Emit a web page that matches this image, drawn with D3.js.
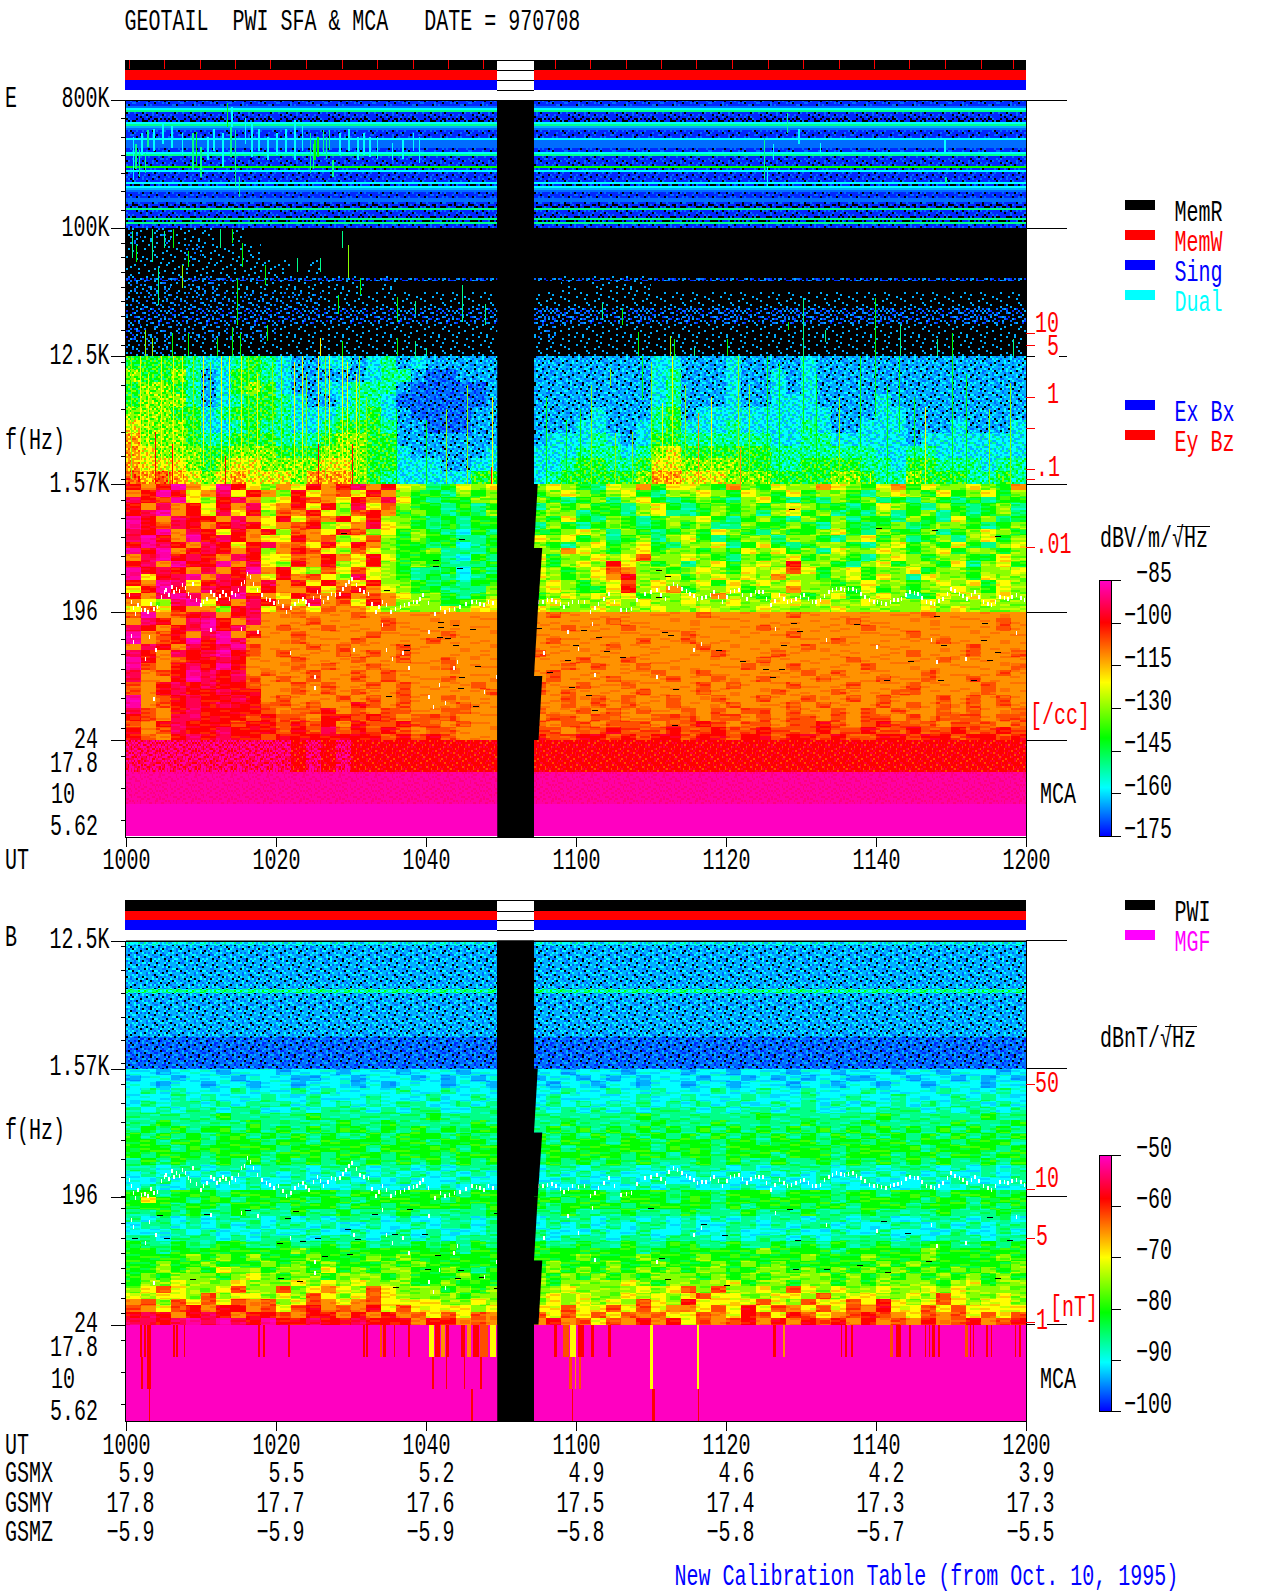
<!DOCTYPE html>
<html>
<head>
<meta charset="utf-8">
<script src="https://cdn.jsdelivr.net/npm/d3@7"></script>
<style>
body { margin: 0; background: white; }
text { font-family: "Liberation Mono", monospace; font-size: 20px; white-space: pre; }
</style>
</head>
<body>
<div id="chart-area"></div>
<script>
var timeTicks = [0, 20, 40, 60, 80, 100, 120];
var gsmx = [5.9, 5.5, 5.2, 4.9, 4.6, 4.2, 3.9];
var gsmy = [17.8, 17.7, 17.6, 17.5, 17.4, 17.3, 17.3];
var gsmz = [-5.9, -5.9, -5.9, -5.8, -5.8, -5.7, -5.5];

// data gap in minutes after 1000, and the slanted sweep edge on its right side
var gapFrom = 49.5, gapTo = 54.4;
var gapEdges = [[1570, 883, 54.9, 54.4], [883, 196, 55.5, 54.9], [196, 110, 54.9, 54.4], [110, 24, 55.5, 55]];
var memTicks = [0.4, 5.1, 9.9, 14.6, 19.3, 24.1, 28.8, 33.5, 38.3, 43, 47.7, 57.2, 61.9, 66.7, 71.4, 76.1, 80.9, 85.6, 90.3, 95.1, 99.8, 104.5, 109.3, 114, 118.3];

// levels: char in a grid string -> dB (0 means no signal, drawn black)
var eLevels = [null, -172.3, -167.8, -163.3, -158, -150, -140.5, -130, -121, -112, -106.6, -100, -94, -87.7, -90.4, -85.5];
var bLevels = [null, -98.5, -96, -93.5, -90.5, -86, -80.75, -75, -70, -65, -62, -58.5, -55, -51.5, -53.1, -50.3];

// fixed tile used to break flat cells into pixels and stripes
var speckTile = [
  "472091836518049273615820", "918365027491736580214769", "250748193602957418360915", "693120574829013675984237",
  "081957346216748902537164", "746208915370462189053827", "319574682041895376120495", "524610379858201743969136",
  "867392041627534091785240", "103785926094187652340879", "495026718363920847156302", "782461390517063294871563",
  "036819254780416539207481", "951347608295872160345796", "264590183716395048621037", "870236951408127593476812",
  "415789302654830917625049", "693104827591246780359168", "208567419032679514083725", "547391062876105328947604",
  "132680795243958461720359", "986725340119374206581243", "059432176862508731496817", "721048693507216895230946"
];

// E 100K-800K, one char per frequency row, nearly constant in time
var e800Profile = "1112451110045321111422221145111116141111140432111221005111050511";

var e800Patches = [[1.7,526,381,"5"],[2.5,508,399,"5"],[0.9,600,362,"4"],[2.8,636,545,"5"],[8.8,618,417,"5"],[9.3,627,435,"6"],[9.9,545,381,"5"],
  [13.4,782,654,"6"],[13.9,654,490,"5"],[14.5,636,326,"5"],[15,381,271,"5"],[12.8,618,435,"4"],[16.7,672,490,"4"],[22.4,690,472,"4"],
  [24.5,618,399,"5"],[25.1,581,472,"6"],[25.5,600,490,"6"],[26.2,636,508,"5"],[27,636,526,"5"],[27.5,472,381,"5"],[30.8,600,472,"4"],
  [32.4,600,490,"4"],[35.4,563,472,"4"],[39,600,454,"4"],[85,590,362,"5"],[85.4,435,326,"4"],[88.1,727,618,"5"],[109.1,590,508,"4"],
  [109.2,381,344,"5"],[92.5,563,508,"4"],[1.2,560,420,"5"],[2,620,500,"4"],[3.6,640,520,"4"],[4.8,680,560,"4"],[6,660,540,"4"],[7.4,620,500,"4"],
  [10.8,600,470,"4"],[11.6,640,520,"4"],[14,760,650,"4"],[15.8,700,560,"4"],[17.6,640,520,"4"],[18.8,600,470,"4"],[20,620,500,"4"],[21.2,640,510,"4"],
  [23.4,660,520,"4"],[24.9,560,420,"5"],[26.6,600,480,"5"],[28.4,620,500,"4"],[29.6,640,520,"4"],[31.6,620,500,"4"],[33.4,600,480,"4"],[36.8,590,480,"4"],
  [38.2,620,520,"4"],[86.2,560,470,"4"],[89.6,640,560,"4"]];

// E 12.5K-100K: how dense the blue speckle is (tenths), mostly empty
var e100Haze = [
  "21211 10100 00000 00000 00000 00000 00000 00000 00000 00000 00000 000",
  "11112 11110 00000 00000 00000 00000 00000 00000 00000 00000 00000 000",
  "11111 11111 10100 00000 00000 00000 00000 00000 00000 00000 00000 000",
  "22212 21111 11111 10100 00000 00101 11100 00000 00000 00000 00000 000",
  "22222 22222 22211 11111 11111 11111 11111 11111 11111 11111 11111 111",
  "33333 33333 33333 33333 33333 44443 33433 43443 34444 34444 33344 443",
  "32222 22222 11111 11111 11111 22111 11111 11111 11111 11111 11111 111",
  "22211 11111 11111 11111 11111 11111 11111 11111 11111 11111 11111 111"
];
var e100Line = "55565 56565 56565 55655 56565 54455 45556 56555 65656 56565 56556 565";

// E 1.57K-12.5K
var e12k = [
  "66665 44565 43344 34534 33333 33333 33344 33343 33343 33333 33333 333",
  "76675 34665 43333 34553 22333 33333 33345 33343 34343 33333 33333 333",
  "67765 34676 43344 55532 22223 33333 33345 33343 34343 33333 33333 333",
  "67775 34566 54334 55422 22223 33333 33345 33343 34443 33343 33333 333",
  "77766 45666 54445 56432 22233 33334 33356 34444 44444 33344 33333 333",
  "87776 44565 54456 66533 22233 33344 33456 44454 44454 33444 33343 334",
  "97776 55666 55567 76633 33333 34445 43466 55555 54455 44444 34444 444",
  "98777 66777 66677 76643 33334 44455 54578 66666 65555 55544 55444 444",
  "98887 67887 77788 76644 43344 44566 55688 77776 65566 66554 66555 455",
  "a9a98 78988 87999 76544 44466 45666 66799 88877 76666 77655 76665 565"
];

// E 196-1.57K
var e1k = [
  "b9bd9 8db87 98b9b c9b87 56878 78765 87968 87697 68779 87689 68778 769",
  "9bdb8 9c8b9 7b89a 8b976 65767 67876 78657 78768 76867 76578 76867 867",
  "cbad8 7bc97 8ba98 b9c86 56677 76567 57865 67657 86565 76756 57656 566",
  "b9c9b 8b9c8 9b8b7 c8a76 65656 57676 65786 56767 67876 65687 65765 675",
  "bcd9b 8c8b7 a9b87 ab967 65657 67756 65785 56767 57867 56575 67565 675",
  "db9cb b9c98 b8a9b 8b776 56566 76865 76567 78656 76576 75665 76586 756",
  "dbacb 9bcb8 9ab78 9c876 56566 57656 76567 67557 66765 76567 56776 567",
  "cbd9c b8b9b 7a98b a7867 65465 66787 57656 76876 57667 86576 67567 876",
  "cdb9d bcb98 8b9a7 8a767 66556 87867 56757 86567 75776 57867 56757 867",
  "bdcb9 cb8bc 9a8b8 b9766 56456 76578 67865 77856 86567 76578 67686 578",
  "dbd9b cb9b7 9ba87 a8766 75556 77987 67867 76768 78675 87787 67867 767",
  "9cdbc b9cb8 8a9b9 8b866 65465 86778 78a77 87657 67867 76578 76776 687",
  "bc9db bd9c8 7b9b7 8b767 65556 76787 b8767 57867 87b77 65786 77685 786",
  "dbcb9 c9bd9 b87a8 a8765 56465 87678 a9776 78768 78a86 78677 86776 778",
  "d8bcd 9cb98 b9a87 c8765 65456 87678 9b778 67878 79776 78687 58776 877",
  "b9dc8 bcb9c 9b8b9 8b776 56566 78767 8a787 78687 87877 67877 67878 687",
  "8bdb9 cbc8b 99b8a b9876 65557 78766 8b789 67786 77977 76867 67787 687",
  "b9cdc 9bdb9 8ba9b 9a987 76567 67878 78677 87977 68767 86787 56878 787",
  "987cd 8b9cb 98c9a 8b977 76678 78777 87877 87787 78878 77877 78777 877",
  "8a8b9 97bc8 a98a9 98777 78788 87778 77787 78777 87777 87777 78787 777"
];

// E 24-196
var e196 = [
  "ad9ab c9bc9 9a999 a9999 99999 9a999 99999 9a999 99a99 99999 9a999 999",
  "9cb9c db9c9 99a99 99a99 99999 99999 a9999 99999 99999 9a999 99999 9a9",
  "cb9bc dbc99 a99a9 99a99 99999 99a99 9a999 99999 a9999 99a99 99999 9a9",
  "d9ab9 cd9b9 9a999 9a999 9a999 99999 99999 a9999 99a99 99999 a9999 999",
  "d9abd bdc99 9a999 a9999 a9999 9a999 99a99 a9999 99999 a9999 99a99 999",
  "9cb9c bcda9 99a9a 999a9 99999 99999 a9999 9a999 999a9 99999 9999a 999",
  "cb9cb cdba9 a999a 9a9a9 99999 a9999 99999 99a99 9a999 99999 a999a 99a",
  "db9ab bcb99 9a999 a99a9 9a999 999a9 9a999 99999 a9999 9a999 99a99 999",
  "da9bc bdb99 9a9a9 9a999 9a999 99a9a 99a99 9999a 99a99 99a99 99999 99a",
  "c9abd cbc9a 99a99 a9a99 99999 9a999 999a9 9a999 999a9 a9999 9a999 9a9",
  "c99bd cbca9 a9a99 a9a99 9a999 9a999 a999a 99a99 a999a 999a9 9a99a 999",
  "a9bcb cbba9 9a9a9 9a9a9 999a9 a99a9 9a999 9a9a9 99a99 9a999 a9999 a99",
  "a9bcb bcbb9 9a9a9 a99a9 9999a a9a99 99a99 9a999 9a999 a999a a9999 a99",
  "d9abc bbcb9 a999a 9a9a9 9a999 99a9a 9a99a 99a99 a99a9 9a9a9 99a9a 9a9",
  "d9abc bcbba a9a99 ba9a9 99a99 99a9a 9a99a 999a9 99a9a 999a9 a9a9a 9a9",
  "ca9bc bbbba 9aab9 a9aa9 9aa99 a99a9 a9a99 a9a9a a9a99 a9a9a 99a9a 99a",
  "ba9cc bbbab aa9bb aba9a aa999 9aa9a a99aa a9aa9 a9aa9 a9aa9 a9aaa 9aa",
  "a9bcb bbabb abab9 baaba a9a99 a9aa9 aaa9a aba9a a9aab a9aba aa9aa a9a",
  "b9acb bcbbb abaca baba9 aa999 aa9aa baaab aabaa baaab aabaa baaba aba",
  "ba9bc bcbba bbbbb bbaba ba999 baabb ababb abbab babba baabb abbab bab"
];

var eMca = [
  "ccccc ccccc cbcbc bbbbb bbbbb bbbbb bbbbb bbbbb bbbbb bbbbb bbbbb bbb",
  "ddddd ddddd ddddd ddddd ddddd ddddd ddddd ddddd ddddd ddddd ddddd ddd",
  "fffff fffff fffff fffff fffff fffff fffff fffff fffff fffff fffff fff"
];

// whistler streaks: minute, top kHz, bottom kHz, level char
var eStreaks = [[0.8,97.7,79.5,"5"],[1.3,88.6,77,"6"],[3.4,99,77,"5"],[4.3,72.7,47.6,"5"],[5.1,97.7,86,"5"],[6.3,99,86,"6"],[7.5,75,59,"7"],[8.3,84,73,"6"],
  [12.5,99,86,"5"],[14.1,99,90,"6"],[15.4,90,73,"6"],[14.8,65.8,34,"6"],[18.5,75,61,"6"],[22.8,79.5,70,"5"],[25.9,79.5,70,"5"],[28.8,97.7,86,"5"],
  [29.6,88.6,65.8,"7"],[31.2,65.8,54,"6"],[28.3,54,41,"6"],[36.1,53,36,"6"],[38.5,50,41,"5"],[44.8,61,36,"5"],[47.9,48,34,"5"],
  [2.5,30,12.5,"7"],[3.4,25,12.5,"7"],[6.1,28,12.5,"6"],[8.3,28,12.5,"6"],[12.1,25,12.5,"6"],[14.1,32,12.5,"6"],[15.2,28,12.5,"6"],[18.8,34,23,"6"],
  [25.9,25,12.5,"8"],[28.8,23,12.5,"6"],[36.1,25,12.5,"6"],[38.5,23,12.5,"5"],[40,18,12.5,"5"],
  [6.3,12.5,1.6,"8"],[7.5,12.5,1.6,"8"],[12.7,12.5,2,"8"],[15.3,12.5,2,"8"],[23.4,12.5,2,"8"],[25.6,12.5,1.6,"8"],[27,12.5,3,"8"],[28.8,12.5,1.6,"8"],[31,12.5,2,"7"],
  [45.4,10,1.6,"7"],[48.8,9,1.6,"8"],[3.9,6,1.6,"b"],[6.1,5,1.6,"b"],[13.2,4,1.6,"b"],[25.6,5,1.6,"b"],[30.1,5,1.6,"b"],[48.7,3,1.6,"b"],
  [0.6,12.5,2,"7"],[1.8,12.5,2,"8"],[2.9,11,1.6,"8"],[4.7,12.5,3,"8"],[5.6,10,1.6,"7"],[8.9,12.5,2,"7"],[10.3,12.5,3,"8"],[11.2,12,2,"7"],[13.7,12.5,2,"8"],[16.3,12.5,3,"7"],
  [17.4,11,2,"8"],[19.5,12,2,"7"],[20.7,12.5,3,"7"],[22.4,12,2,"8"],[24,11,1.6,"7"],[26.5,12.5,2,"7"],[29.5,12,1.6,"8"],[30.7,11,2,"8"],[32,9,1.6,"7"],[36,8,1.6,"6"],[40,7,1.6,"6"],[42.7,8,1.6,"7"],
  [63.4,48.7,37,"5"],[66.1,45,34,"6"],[68.3,29,12.5,"6"],[72.5,26,12.5,"7"],[73,24,12.5,"6"],[75.7,18,12.5,"5"],[80.1,24,12.5,"6"],[88.3,36,30,"6"],
  [90.3,52,12.5,"5"],[93.2,30,22,"5"],[99.9,52,12.5,"6"],[103.2,34,12.5,"5"],[108.1,24,12.5,"5"],[110.1,28,12.5,"6"],[118.3,24,12.5,"5"],
  [72.8,12.5,1.6,"8"],[71.4,8.46,1.6,"8"],[76.3,7.6,1.6,"9"],[81.6,12.5,1.6,"7"],[81.9,4.76,1.6,"9"],[65.2,5.9,1.6,"7"],[68.8,12.5,8.74,"6"],[85.4,12.5,1.6,"6"],
  [90.3,12.5,5.9,"6"],[97.9,12.5,4.76,"6"],[99.9,12.5,7.3,"6"],[103,12.5,5.9,"6"],[106.5,8.17,1.6,"8"],[110.1,12.5,1.6,"6"],[117.9,10.2,1.6,"7"],[64.5,11.5,9.9,"7"],[99.2,2.5,1.6,"8"],
  [56,9,1.6,"6"],[58.7,7,1.6,"6"],[60.5,8,1.6,"6"],[62,10,1.6,"7"],[67.5,6,1.6,"7"],[70,12,1.6,"7"],[74.5,10,1.6,"7"],[78,9,1.6,"8"],[83,10,1.6,"7"],[87,12,1.6,"6"],[92,11,1.6,"6"],[95,9,1.6,"7"],
  [101.5,10,1.6,"6"],[105,9,1.6,"6"],[112,11,1.6,"6"],[115,8,1.6,"7"]];

// white marks from the magnetometer: minute, Hz
var fceDots = [[0.34,396],[0.6,325],[1.15,200],[1.97,235],[2.8,218],[3.6,253],[4.1,271],[5,432],[5.2,450],[6,486],[6.6,468],[7.4,504],[8.2,414],[8.8,521],[9.9,289],[10.7,361],
  [11.2,432],[12,361],[12.8,432],[13.7,361],[14.5,396],[15.3,521],[16.1,629],[16.9,521],[18,396],[19.1,343],[20.2,325],[21.3,218],[22.4,307],[23.5,361],[24.3,289],[25.4,432],
  [26.2,325],[27.3,414],[28.4,414],[29.2,504],[30,575],[31.1,450],[32.2,414],[33.2,218],[34.1,325],[35.2,218],[36.5,271],[37.6,307],[38.7,325],[39.5,396],[41.1,200],[43,235],
  [44.4,271],[46,325],[47.1,307],[48.2,325],[54.9,325],[56.1,343],[57.2,325],[58.3,271],[59.4,325],[61,325],[61.8,218],[62.9,307],[64.3,414],[65.9,235],[67.3,253],[69.1,414],
  [70.7,450],[71.8,361],[72.9,521],[74,468],[75.1,414],[76.1,361],[77.2,378],[78.3,432],[79.4,325],[80.5,432],[81.6,450],[82.7,361],[83.8,432],[84.8,432],[85.9,289],[87,396],
  [88.1,325],[89.2,361],[90.3,396],[91.4,325],[92.5,343],[93.6,432],[94.6,468],[95.7,450],[96.8,468],[97.9,414],[99,343],[100.1,325],[101.2,307],[102.3,343],[103.3,361],
  [104.4,432],[105.5,414],[106.6,325],[107.7,307],[108.8,361],[109.9,468],[111,414],[112,361],[113.1,432],[114.2,325],[115.3,289],[116.4,378],[117.5,361],[118.6,396],[119.7,343],
  [0.9,260],[1.5,290],[2.4,240],[3.2,300],[4.6,380],[5.6,400],[6.3,430],[7,440],[7.8,470],[8.5,380],[9.3,350],[10.2,330],[11.6,400],[12.4,390],[13.2,400],[14,420],[14.9,450],[15.7,540],
  [16.5,590],[17.4,450],[18.6,360],[19.6,310],[20.8,280],[21.9,260],[22.9,340],[23.9,320],[24.9,370],[25.8,380],[26.8,370],[27.8,400],[28.8,460],[29.6,540],[30.6,510],[31.6,430],[32.7,300],
  [33.6,270],[34.6,290],[35.8,250],[37,290],[38.2,320],[39.1,360],[40.2,310],[41.8,260],[42.4,220],[43.7,250],[45.2,300],[46.6,320],[47.6,290],[48.8,310],[55.5,330],[56.7,350],[57.8,300],
  [58.9,300],[60.2,320],[62.4,260],[63.6,360],[65,330],[66.6,240],[68,350],[69.9,430],[71.2,400],[72.3,480],[73.4,500],[74.6,440],[75.6,390],[76.7,370],[77.8,400],[78.9,380],[80,380],[81,440],
  [82.1,400],[83.2,400],[84.3,430],[85.3,360],[86.4,340],[87.6,360],[88.6,340],[89.8,380],[90.9,360],[91.9,330],[93,390],[94.1,450],[95.2,460],[96.2,460],[97.3,440],[98.4,380],[99.6,330],
  [100.6,315],[101.8,325],[102.8,350],[103.9,400],[105,420],[106,370],[107.2,315],[108.3,335],[109.4,415],[110.4,440],[111.5,390],[112.6,395],[113.6,380],[114.8,305],[115.8,330],[117,370],[118,380],[119.2,370],
  [0.6,167],[0.9,158],[2.5,136],[3,165],[3.9,147],[3.6,82],[11.2,174],[15.3,176],[17.5,172],[21.8,143],[25.1,111],[25.1,96],[30.3,147],[34.1,181],[34.6,147],[35.4,136],[36.8,143],
  [37.6,123],[40.3,172],[41.7,100],[40.3,84],[43.6,123],[44.1,132],[40.9,71],[42.5,76],[47.7,91],[49.3,111],[55.6,143],[58.8,172],[60.2,149],[62.1,183],[62.4,114],[75.6,147],
  [76.6,156],[70.7,111],[86.5,176],[93.3,161],[100,152],[107.3,161],[108,132],[111.9,136],[118.6,171]];

// short black dropouts: minute, Hz
var eDropouts = [[41.6,176],[43.6,178],[45.9,173],[41.4,162],[42.5,161],[37,151],[43.6,151],[37,145],[46.5,123],[44.4,108],[44.2,94],[46.2,70],[34.6,83],
  [54.7,174],[60.7,172],[62.6,162],[59.6,152],[63.7,143],[58.5,132],[65.9,136],[56.1,115],[59.1,95],[61.3,85],[62.1,64],[88.6,181],[89.5,171],[72.3,165],[71.5,169],
  [87.3,152],[78.6,145],[81.9,130],[84.9,119],[87,119],[85.9,109],[101,105],[108.2,104],[112.6,105],[72.9,92],[72.8,44],[104.2,130],[114.8,132],[115.9,142],[108.7,152],[114,158],[114.1,181],[107.7,191],[97,180],
  [88.4,1301],[100,1094],[107.4,1076],[115.9,1012],[70.7,647],[71.8,582],[70.7,360],[28.6,1040],[44.4,980],[40.9,754],[40.9,693],[44.1,665],[34.4,432],[41.6,182]];
var bDropouts = [[4.1,171],[10.4,172],[15.9,178],[22.3,177],[21.2,167],[37.4,179],[32.8,173],[49,174],[5,140],[0.8,140],[25.2,140],[30.5,139],[20.1,133],[23.2,136],[29.2,153],[41.2,118],
  [26.1,116],[29.4,119],[35.4,146],[39.4,146],[47,88],[44.3,97],[39.9,99],[20.3,87],[8.5,85],[49,73],[35.6,74],[22.8,82],[43.9,87],[79.4,144],[89.2,138],[100.6,163],[76.7,159],
  [69.6,180],[88.1,179],[114.8,168],[103.9,147],[93,98],[71,114],[106.6,110],[88.9,98],[101.2,95],[117.5,138],[71.8,85],[115.9,86],[79.7,77],[97.4,104]];

// B 1.57K-12.5K, one char per frequency row
var b12kProfile = "43333333333353333333333322222222";

// B 196-1.57K
var b1k = [
  "44344 43444 34443 44434 44344 44344 43444 34434 44344 34443 44344 434",
  "34434 44344 43344 34443 43434 34434 34344 43443 43434 43344 34434 343",
  "44344 34434 43444 34344 43443 43443 44344 34434 44344 34434 43444 344",
  "45454 44544 45454 44454 45444 44544 54454 44544 54454 44544 44544 454",
  "44454 54445 44544 45444 54454 45444 44544 54445 44454 45445 44454 544",
  "45455 45455 54545 45455 44545 45454 54545 45454 45454 54545 45455 454",
  "54545 54554 45455 54545 54455 54545 45455 54545 54554 45455 54545 545",
  "55555 56555 55655 55555 65555 55555 55655 55555 65555 55565 55555 655",
  "55655 55565 55556 55655 55565 55655 55565 55655 55565 55655 55565 556",
  "56565 66565 65656 65656 56566 56565 65656 56565 65656 56565 65656 565",
  "65656 56656 56565 56566 65655 65656 56565 65656 56565 65656 56565 656",
  "66566 56665 66566 66566 56665 65666 56656 66566 56665 66566 56656 665",
  "66656 66666 56666 65666 66566 66566 66656 66566 66666 56666 65666 656",
  "65666 56665 66656 66566 65666 56666 65665 66566 65666 56665 66566 566",
  "56565 56565 65656 56565 65656 56565 65655 56565 56556 56565 65655 656",
  "55455 45545 55455 54554 54555 45545 55454 55545 45555 45545 55454 545",
  "45454 54545 45454 54545 45454 45454 54445 45454 54545 45454 54544 545",
  "44545 45454 45445 45454 44544 44544 45454 44544 45445 44544 45454 445",
  "45445 54454 54544 54445 45454 54454 44545 54445 44544 54454 45445 544",
  "66566 65666 56665 66566 66566 65666 56665 66566 65666 56656 66566 656"
];

// B 24-196
var b196 = [
  "68665 66566 66566 56666 65666 66566 56665 66566 66666 56666 65665 666",
  "66656 65666 56665 66566 66656 65666 65666 66565 66656 65666 56665 656",
  "55656 55655 56556 55565 55556 55655 56555 65556 55565 55655 55655 565",
  "54545 45554 54545 55454 45545 45554 55454 54545 45545 54554 45554 554",
  "45545 45454 55454 45445 45545 45454 54554 54455 45455 45445 54545 455",
  "44454 54445 44544 54454 54445 54445 44544 54454 44544 54454 44454 454",
  "55455 54545 55455 54554 54555 54555 45545 55454 55454 55554 54555 455",
  "65565 56655 65565 65556 56565 65565 56556 65565 56565 65565 56655 656",
  "66566 66666 67666 66666 66566 66666 66566 66666 76666 56666 67666 666",
  "66667 67676 66766 67676 66666 66676 66766 67666 66676 66766 67666 676",
  "66766 76667 67676 66767 66666 67666 76676 66767 67666 66676 76666 667",
  "66767 68776 77686 76776 67656 67676 76767 67766 77676 76767 67676 767",
  "67677 76787 67767 77676 66766 76767 67677 76767 67777 67676 76767 676",
  "67787 77877 78787 87776 67666 76777 78767 77786 77677 67677 77678 677",
  "78a87 78a77 a7898 7a877 76767 77877 77878 a7a77 87a87 87787 78787 777",
  "87887 a7887 87a87 8a877 77677 78787 78787 8a887 7887a 78877 87a87 787",
  "9a7a8 a8a9a 78a98 9a888 87787 78787 87a87 b8888 a87a8 8a8b8 78a87 887",
  "a98ab 9bb9a 8ab9a 9b8a8 88878 88a88 a8a89 98a8b 8a98a 8a9b8 8a8a8 888",
  "bcb9b cb9bb a9bb9 b9b9a 8a8a9 a8a8a 8a9a8 8a98b a8ba8 9aba9 8a9a8 a8a",
  "ccbcd cdcbd bbcbb cbbb9 bb9a9 9b9a8 a9b9b 8a9ab 9b9ba b9b9a 9b9ab 9ab"
];

// B MCA is flat except for narrow stripes: from minute, to minute, level char
var bMcaRow1 = [[1.9,2.1,"b"],[2.4,2.6,"b"],[2.8,3.3,"b"],[6.3,6.5,"b"],[6.7,6.9,"b"],[7.7,7.9,"b"],[17.6,17.8,"b"],[18.3,18.5,"b"],[21.6,21.8,"b"],[31.6,31.9,"b"],[32,32.2,"b"],[33.8,34.1,"a"],[34.3,34.6,"b"],[35.7,35.9,"b"],[37.6,37.8,"b"],
  [40.4,41,"8"],[41.2,41.8,"b"],[42,42.5,"9"],[42.6,43.1,"b"],[44.7,45.2,"b"],[45.4,46,"9"],[46.3,47,"b"],[47.2,48.3,"a"],[48.5,49.3,"8"],[57,57.5,"b"],[58.3,59,"a"],[59.2,60,"8"],[60.2,61,"b"],
  [62,62.4,"b"],[64.3,64.6,"b"],[69.9,70.3,"8"],[76.1,76.4,"8"],[86.2,86.6,"b"],[87.6,87.8,"9"],[95.3,95.5,"b"],[95.9,96.1,"b"],[96.6,96.9,"b"],[101.9,102.2,"a"],[102.6,103,"b"],[103.1,103.3,"b"],[104.4,104.7,"b"],
  [106.5,106.7,"b"],[107,107.2,"b"],[107.5,107.9,"b"],[108.2,108.5,"b"],[111.9,112.2,"a"],[112.5,112.7,"b"],[112.9,113.1,"b"],[114.7,114.9,"b"],[115.3,115.5,"b"],[118.5,118.7,"b"],[119,119.3,"b"]];
var bMcaRow2 = [[2,2.3,"b"],[2.8,3.3,"b"],[40.8,41,"b"],[42.6,42.8,"b"],[45,45.2,"b"],[47.2,47.4,"b"],[59,59.4,"a"],[59.8,60,"9"],[60.4,60.7,"a"],[69.9,70.3,"8"],[76.1,76.4,"8"]];
var bMcaRow3 = [[3,3.2,"b"],[46,46.2,"b"],[59.4,59.6,"b"],[70.1,70.5,"b"],[76.2,76.4,"b"]];

var eDensities = [10, 5, 1, 0.5, 0.1, 0.05, 0.01];
var bFields = [50, 10, 5, 1];

var eBarTicks = [-85, -100, -115, -130, -145, -160, -175];
var bBarTicks = [-50, -60, -70, -80, -90, -100];

var width = 1280, height = 1593;
var svg = d3.select("#chart-area").append("svg")
    .attr("width", width)
    .attr("height", height)
    .style("display", "block");
var defs = svg.append("defs");

var xScale = d3.scaleLinear().domain([0, 120]).range([126, 1026]);

// every band is linear in frequency and 128px tall, so one piecewise scale per panel
var eBands = [800000, 100000, 12500, 1570, 196, 24];
var yE = d3.scaleLinear().domain(eBands).range([100, 228, 356, 484, 612, 740]);
var bBands = [12500, 1570, 196, 24];
var yB = d3.scaleLinear().domain(bBands).range([940.5, 1068.5, 1196.5, 1324.5]);

var mcaNames = ["17.8", "10", "5.62"];
var mcaE = d3.scaleBand().domain(mcaNames).range([740, 836]);
var mcaB = d3.scaleBand().domain(mcaNames).range([1324.5, 1420.5]);

var stops = ["#0000ff", "#00ffff", "#00ff00", "#ffff00", "#ff0000", "#ff00c8"];
var colorE = d3.scaleLinear().domain([-175, -158, -140.5, -121, -100, -85]).range(stops);
var colorB = d3.scaleLinear().domain([-100, -90.5, -80.75, -70, -58.5, -50]).range(stops);

function levelColor(c, levels, color) {
    var db = levels[parseInt(c, 16)];
    return db == null ? "black" : color(db);
}

// pattern painted from speckTile on a flat background, pick(digit) gives a colour or null
function tilePattern(id, bg, pick, cw, ch) {
    var p = defs.append("pattern")
        .attr("id", id)
        .attr("patternUnits", "userSpaceOnUse")
        .attr("width", 24 * cw).attr("height", 24 * ch);
    if (bg) {
        p.append("rect").attr("width", 24 * cw).attr("height", 24 * ch).attr("fill", bg);
    }
    speckTile.forEach(function(row, i) {
        row.split("").forEach(function(ch2, j) {
            var c = pick(+ch2);
            if (c) {
                p.append("rect")
                    .attr("x", j * cw).attr("y", i * ch)
                    .attr("width", cw).attr("height", ch)
                    .attr("fill", c)
                    .attr("shape-rendering", "crispEdges");
            }
        });
    });
}

function mottlePatterns(prefix, levels, color) {
    d3.range(1, 13).forEach(function(L) {
        var up = color(levels[L + 1]);
        var down = L > 1 ? color(levels[L - 1]) : "black";
        tilePattern(prefix + L.toString(16), color(levels[L]), function(d) {
            if (d == 0) return L <= 3 ? "black" : down;
            if (d <= 2 && L > 1) return down;
            if (d >= 8) return up;
            return null;
        }, 2, 2);
    });
}
mottlePatterns("e", eLevels, colorE);
mottlePatterns("b", bLevels, colorB);

// wide flat dashes for the low bands, half a level either way
function stripePatterns(prefix, levels, color) {
    d3.range(1, 14).forEach(function(L) {
        var upDb = L == 13 ? levels[15] : (levels[L] + levels[L + 1]) / 2;
        var downDb = (levels[L] + levels[L - 1 > 0 ? L - 1 : L]) / 2;
        // the orange band only ever strays towards red
        if (L == 9) downDb = levels[L];
        tilePattern(prefix + L.toString(16), color(levels[L]), function(d) {
            if (d <= 1) return color(downDb);
            if (d >= 8) return color(upDb);
            return null;
        }, 10, 2);
    });
}
stripePatterns("se", eLevels, colorE);
stripePatterns("sb", bLevels, colorB);

// vertical hairlines for the MCA rows
tilePattern("mcaRed", colorE(eLevels[11]), function(d) {
    if (d == 0) return colorE(eLevels[10]);
    return d >= 8 ? colorE(-96) : null;
}, 1.5, 2);
tilePattern("mcaPink", colorE(eLevels[12]), function(d) {
    if (d <= 1) return colorE(eLevels[11]);
    return d >= 6 ? colorE(eLevels[13]) : null;
}, 1.5, 2);
tilePattern("mcaMid", colorE(eLevels[13]), function(d) {
    return d <= 2 ? colorE(eLevels[14]) : null;
}, 1.5, 2);

// rows with heavy dropouts in the top E band
tilePattern("eDense", colorE(eLevels[1]), function(d) {
    if (d <= 3) return "black";
    return d == 9 ? colorE(eLevels[2]) : null;
}, 2, 2);

// speckle on black, n tenths of the pixels are lit
d3.range(1, 10).forEach(function(n) {
    tilePattern("haze" + n, null, function(d) {
        if (d >= n) return null;
        if (d == 0) return colorE(eLevels[3]);
        return colorE(d % 2 ? eLevels[2] : eLevels[1]);
    }, 2, 2);
});

function label(str, x, y, color, anchor) {
    return svg.append("text")
        .attr("transform", "translate(" + x + "," + y + ") scale(1,1.45)")
        .attr("text-anchor", anchor || "start")
        .attr("fill", color || "black")
        .text(str);
}

function rule(x1, x2, y, color) {
    svg.append("line")
        .attr("x1", x1).attr("x2", x2)
        .attr("y1", y).attr("y2", y)
        .attr("stroke", color || "black")
        .attr("shape-rendering", "crispEdges");
}

function colMinute(j) {
    return j < 25 ? j * 2 : 54 + (j - 25) * 2;
}

function gridCells(rows, top, bottom, y) {
    var step = (top - bottom) / rows.length;
    var cells = [];
    rows.forEach(function(r, i) {
        r.replace(/ /g, "").split("").forEach(function(c, j) {
            cells.push({
                c: c,
                t: colMinute(j),
                y0: y(top - i * step),
                y1: y(top - (i + 1) * step)
            });
        });
    });
    return cells;
}

function drawGrid(g, rows, top, bottom, y, fill) {
    g.append("g").selectAll("rect").data(gridCells(rows, top, bottom, y)).join("rect")
        .attr("x", function(d) { return xScale(d.t); })
        .attr("width", function(d) { return xScale(d.t + 2) - xScale(d.t); })
        .attr("y", function(d) { return d.y0; })
        .attr("height", function(d) { return d.y1 - d.y0; })
        .attr("fill", function(d) { return fill(d.c); })
        .attr("shape-rendering", "crispEdges");
}

// a profile is a grid with one wide column on each side of the gap
function drawProfile(g, profile, top, bottom, y, fill) {
    var step = (top - bottom) / profile.length;
    [[0, gapFrom], [gapTo, 120]].forEach(function(seg) {
        g.append("g").selectAll("rect").data(profile.split("")).join("rect")
            .attr("x", xScale(seg[0]))
            .attr("width", xScale(seg[1]) - xScale(seg[0]))
            .attr("y", function(d, i) { return y(top - i * step); })
            .attr("height", function(d, i) { return y(top - (i + 1) * step) - y(top - i * step); })
            .attr("fill", fill)
            .attr("shape-rendering", "crispEdges");
    });
}

function drawStreaks(g, data, unit, w, y) {
    g.append("g").selectAll("rect").data(data).join("rect")
        .attr("x", function(d) { return xScale(d[0]); })
        .attr("width", w)
        .attr("y", function(d) { return y(d[1] * unit); })
        .attr("height", function(d) { return y(d[2] * unit) - y(d[1] * unit); })
        .attr("fill", function(d) { return levelColor(d[3], eLevels, colorE); })
        .attr("shape-rendering", "crispEdges");
}

function drawMarks(g, data, y, fill, w, h) {
    g.append("g").selectAll("rect").data(data).join("rect")
        .attr("x", function(d) { return xScale(d[0]); })
        .attr("y", function(d) { return y(d[1]); })
        .attr("width", w)
        .attr("height", h)
        .attr("fill", fill)
        .attr("shape-rendering", "crispEdges");
}

function drawGap(g, y, y0, y1) {
    g.append("rect")
        .attr("x", xScale(gapFrom)).attr("width", xScale(gapTo) - xScale(gapFrom))
        .attr("y", y0).attr("height", y1 - y0)
        .attr("fill", "black");
    var line = d3.line();
    g.append("g").selectAll("path").data(gapEdges).join("path")
        .attr("d", function(d) {
            return line([[xScale(gapFrom), y(d[0])], [xScale(d[2]), y(d[0])], [xScale(d[3]), y(d[1])], [xScale(gapFrom), y(d[1])]]) + "Z";
        })
        .attr("fill", "black");
}

function drawMemBars(y0, y1, y2, y3) {
    var rows = [[y0, y1, "black"], [y1, y2, "red"], [y2, y3, "blue"]];
    rows.forEach(function(r) {
        [[-0.15, gapFrom], [gapTo, 120.05]].forEach(function(seg) {
            svg.append("rect")
                .attr("x", xScale(seg[0])).attr("width", xScale(seg[1]) - xScale(seg[0]))
                .attr("y", r[0]).attr("height", r[1] - r[0])
                .attr("fill", r[2])
                .attr("shape-rendering", "crispEdges");
        });
    });
    [y0, y1, y2, y3].forEach(function(y) {
        rule(xScale(gapFrom), xScale(gapTo), Math.round(y) + 0.5);
    });
}

function leftAxis(y, values, size) {
    var axis = d3.axisLeft(y).tickValues(values).tickSize(size).tickFormat("");
    var g = svg.append("g").attr("transform", "translate(125.5,0)").call(axis);
    g.select(".domain").remove();
    g.selectAll("line").attr("shape-rendering", "crispEdges");
}

function timeAxis(yPos, labelDy) {
    var axis = d3.axisBottom(xScale).tickValues(timeTicks).tickSize(9)
        .tickFormat(function(t) {
            return d3.format("02")(10 + Math.floor(t / 60)) + d3.format("02")(t % 60);
        });
    var g = svg.append("g").attr("transform", "translate(0," + yPos + ")").call(axis);
    g.select(".domain").remove();
    g.selectAll("line").attr("shape-rendering", "crispEdges");
    g.selectAll("text")
        .attr("y", 0).attr("dy", 0)
        .attr("transform", "translate(0," + labelDy + ") scale(1,1.45)")
        .attr("fill", "black");
    g.attr("font-size", null).attr("font-family", null);
}

function colorBar(color, domain, y0, y1, ticks) {
    var y = d3.scaleLinear().domain(domain).range([y1, y0]);
    svg.append("g").selectAll("rect").data(d3.range(y0, y1)).join("rect")
        .attr("x", 1100).attr("width", 11.5)
        .attr("y", function(d) { return d; }).attr("height", 1)
        .attr("fill", function(d) { return color(y.invert(d + 0.5)); })
        .attr("shape-rendering", "crispEdges");
    svg.append("rect")
        .attr("x", 1099.5).attr("y", y0).attr("width", 12).attr("height", y1 - y0)
        .attr("fill", "none").attr("stroke", "black")
        .attr("shape-rendering", "crispEdges");
    var axis = d3.axisRight(y).tickValues(ticks).tickSize(9).tickFormat("");
    var g = svg.append("g").attr("transform", "translate(1111.5,0)").call(axis);
    g.select(".domain").remove();
    g.selectAll("line").attr("shape-rendering", "crispEdges");
    ticks.forEach(function(v) {
        label(d3.format("d")(v), 1172, y(v) + 1.5, "black", "end");
    });
}

function swatch(y, color, name) {
    svg.append("rect")
        .attr("x", 1125).attr("width", 30)
        .attr("y", y).attr("height", 10)
        .attr("fill", color);
    label(name, 1174.5, y + 20.5, color);
}

function solidE(c) { return levelColor(c, eLevels, colorE); }
function solidB(c) { return levelColor(c, bLevels, colorB); }
function noisyE(c) { return "url(#e" + c + ")"; }
function noisyB(c) { return "url(#b" + c + ")"; }
function stripedE(c) { return "url(#se" + c + ")"; }
function stripedB(c) { return "url(#sb" + c + ")"; }
function mcaFill(c) {
    if (c == "b") return "url(#mcaRed)";
    if (c == "c") return "url(#mcaPink)";
    if (c == "d") return "url(#mcaMid)";
    return solidE(c);
}

// ---- E panel
var panelE = svg.append("g");
panelE.append("rect")
    .attr("x", xScale(0)).attr("width", xScale(120) - xScale(0))
    .attr("y", 100).attr("height", 736)
    .attr("fill", "black");

drawProfile(panelE, e800Profile, 800000, 100000, yE, function(c) {
    if (c == "0") return "url(#eDense)";
    return c == "1" ? noisyE(c) : solidE(c);
});
drawStreaks(panelE, e800Patches, 1000, 1.5, yE);

// speckle cover for the nearly empty band
panelE.append("g").selectAll("rect").data(gridCells(e100Haze, 100000, 12500, yE)).join("rect")
    .attr("x", function(d) { return xScale(d.t); })
    .attr("width", function(d) { return xScale(d.t + 2) - xScale(d.t); })
    .attr("y", function(d) { return d.y0; })
    .attr("height", function(d) { return d.y1 - d.y0; })
    .attr("fill", function(d) { return d.c == "0" ? "none" : "url(#haze" + d.c + ")"; })
    .attr("shape-rendering", "crispEdges");
panelE.append("g").selectAll("rect").data(e100Line.replace(/ /g, "").split("")).join("rect")
    .attr("x", function(d, j) { return xScale(colMinute(j)); })
    .attr("width", function(d, j) { return xScale(colMinute(j) + 2) - xScale(colMinute(j)); })
    .attr("y", yE(66000)).attr("height", 3)
    .attr("fill", function(d) { return "url(#haze" + d + ")"; })
    .attr("shape-rendering", "crispEdges");

drawGrid(panelE, e12k, 12500, 1570, yE, noisyE);
drawGrid(panelE, e1k, 1570, 196, yE, stripedE);
drawGrid(panelE, e196, 196, 24, yE, stripedE);
eMca.forEach(function(r, i) {
    var y0 = mcaE(mcaNames[i]);
    var yy = d3.scaleLinear().domain([1, 0]).range([y0, y0 + mcaE.bandwidth()]);
    drawGrid(panelE, [r], 1, 0, yy, mcaFill);
});
drawStreaks(panelE, eStreaks, 1000, 1, yE);
drawMarks(panelE, eDropouts, yE, "black", 6, 1);
drawMarks(panelE, fceDots, yE, "white", 1.5, 4);
drawGap(panelE, yE, 100, 837);

svg.append("rect")
    .attr("x", 125.5).attr("y", 100.5).attr("width", 900.5).attr("height", 736.5)
    .attr("fill", "none").attr("stroke", "black")
    .attr("shape-rendering", "crispEdges");

drawMemBars(59.5, 69.5, 79.5, 89.5);
svg.append("g").selectAll("line").data(memTicks).join("line")
    .attr("x1", function(d) { return xScale(d); })
    .attr("x2", function(d) { return xScale(d); })
    .attr("y1", 60).attr("y2", 69)
    .attr("stroke", "red")
    .attr("shape-rendering", "crispEdges");

leftAxis(yE, [700000, 600000, 500000, 400000, 300000, 200000], 5);
leftAxis(yE, [90000, 80000, 70000, 60000, 50000, 40000, 30000, 20000], 5);
leftAxis(yE, [12000, 10000, 8000, 6000, 4000, 2000], 5);
leftAxis(yE, [1400, 1200, 1000, 800, 600, 400, 200], 5);
leftAxis(yE, [180, 160, 140, 120, 100, 80, 60, 40], 5);
leftAxis(yE, eBands, 15);
leftAxis(mcaE, mcaNames, 5);

[800000, 100000, 1570, 196, 24].forEach(function(f) {
    rule(1026, 1066.5, yE(f) + 0.5);
});
rule(1026, 1034.7, yE(12500) + 0.5);
rule(1059, 1066.5, yE(12500) + 0.5);

// plasma frequency 8980*sqrt(n) on the right hand side
eDensities.forEach(function(n) {
    rule(1026, 1034.7, Math.round(yE(8980 * Math.sqrt(n))) + 0.5, "red");
});

timeAxis(837.5, 31.5);

label("GEOTAIL  PWI SFA & MCA   DATE = 970708", 124.5, 29.5);
label("E", 5, 106.5);
label("800K", 109.5, 107, "black", "end");
label("100K", 109.5, 236, "black", "end");
label("12.5K", 109.5, 363.5, "black", "end");
label("f(Hz)", 5, 449);
label("1.57K", 109.5, 491.5, "black", "end");
label("196", 98, 619.5, "black", "end");
label("24", 98, 747.5, "black", "end");
label("17.8", 98, 771.5, "black", "end");
label("10", 75, 802.5, "black", "end");
label("5.62", 98, 835, "black", "end");
label("UT", 5, 869);

label("10", 1035, 331.5, "red");
label("5", 1047, 354.5, "red");
label("1", 1047, 403, "red");
label(".1", 1036, 476, "red");
label(".01", 1035.5, 552.5, "red");
label("[/cc]", 1060, 724, "red", "middle");
label("MCA", 1040, 802.5);

swatch(200, "black", "MemR");
swatch(230, "red", "MemW");
swatch(260, "blue", "Sing");
swatch(290, "cyan", "Dual");
swatch(400, "blue", "Ex Bx");
swatch(430, "red", "Ey Bz");

label("dBV/m/\u221AHz", 1100, 546.5);
rule(1177, 1209.5, 526.5);
colorBar(colorE, [-175, -85], 580, 836, eBarTicks);

// ---- B panel
var panelB = svg.append("g");
panelB.append("rect")
    .attr("x", xScale(0)).attr("width", xScale(120) - xScale(0))
    .attr("y", 940.5).attr("height", 480)
    .attr("fill", "black");

drawProfile(panelB, b12kProfile, 12500, 1570, yB, noisyB);
drawGrid(panelB, b1k, 1570, 196, yB, stripedB);
drawGrid(panelB, b196, 196, 24, yB, stripedB);

[bMcaRow1, bMcaRow2, bMcaRow3].forEach(function(stripes, i) {
    var y0 = mcaB(mcaNames[i]);
    var h = mcaB.bandwidth();
    panelB.append("rect")
        .attr("x", xScale(0)).attr("width", xScale(120) - xScale(0))
        .attr("y", y0).attr("height", h)
        .attr("fill", colorB(bLevels[15]))
        .attr("shape-rendering", "crispEdges");
    panelB.append("g").selectAll("rect").data(stripes).join("rect")
        .attr("x", function(d) { return xScale(d[0]); })
        .attr("width", function(d) { return xScale(d[1]) - xScale(d[0]); })
        .attr("y", y0).attr("height", h)
        .attr("fill", function(d) { return solidB(d[2]); })
        .attr("shape-rendering", "crispEdges");
});
drawMarks(panelB, bDropouts, yB, "black", 6, 1);
drawMarks(panelB, fceDots, yB, "white", 1.5, 4);
drawGap(panelB, yB, 940.5, 1421);

svg.append("rect")
    .attr("x", 125.5).attr("y", 941).attr("width", 900.5).attr("height", 480)
    .attr("fill", "none").attr("stroke", "black")
    .attr("shape-rendering", "crispEdges");

drawMemBars(899.5, 910.5, 919.5, 929.5);

leftAxis(yB, [12000, 10000, 8000, 6000, 4000, 2000], 5);
leftAxis(yB, [1400, 1200, 1000, 800, 600, 400, 200], 5);
leftAxis(yB, [180, 160, 140, 120, 100, 80, 60, 40], 5);
leftAxis(yB, bBands, 15);
leftAxis(mcaB, mcaNames, 5);

[12500, 1570, 196].forEach(function(f) {
    rule(1026, 1066.5, Math.floor(yB(f)) + 0.5);
});
rule(1047, 1066.5, Math.floor(yB(24)) + 0.5);
rule(1026, 1034.7, Math.floor(yB(24)) + 0.5);

// electron gyrofrequency 28 Hz per nT
bFields.forEach(function(b) {
    rule(1026, 1034.7, Math.round(yB(28 * b)) + 0.5, "red");
});

timeAxis(1421.5, 32);

label("B", 5, 946);
label("12.5K", 109.5, 947.5, "black", "end");
label("1.57K", 109.5, 1075, "black", "end");
label("f(Hz)", 5, 1139);
label("196", 98, 1204, "black", "end");
label("24", 98, 1332, "black", "end");
label("17.8", 98, 1356, "black", "end");
label("10", 75, 1388, "black", "end");
label("5.62", 98, 1420, "black", "end");
label("UT", 5, 1453.5);
label("GSMX", 5, 1482);
label("GSMY", 5, 1512);
label("GSMZ", 5, 1541);

var fmt = d3.format(".1f");
timeTicks.forEach(function(t, i) {
    label(fmt(gsmx[i]), xScale(t) + 28.5, 1482, "black", "end");
    label(fmt(gsmy[i]), xScale(t) + 28.5, 1512, "black", "end");
    label(fmt(gsmz[i]), xScale(t) + 28.5, 1541, "black", "end");
});

label("50", 1035, 1092, "red");
label("10", 1035, 1187, "red");
label("5", 1036, 1245, "red");
label("1", 1036, 1328.5, "red");
label("[nT]", 1074, 1316, "red", "middle");
label("MCA", 1040, 1388);

swatch(900, "black", "PWI");
swatch(930, "magenta", "MGF");

label("dBnT/\u221AHz", 1100, 1047);
rule(1165, 1197, 1026.5);
colorBar(colorB, [-100, -50], 1155, 1411, bBarTicks);

label("New Calibration Table (from Oct. 10, 1995)", 674.5, 1585, "blue");
</script>
</body>
</html>
